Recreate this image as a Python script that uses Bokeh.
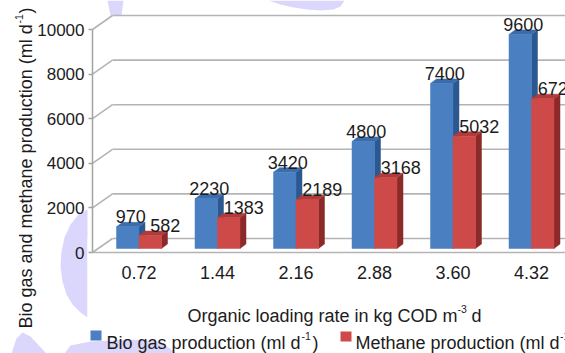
import numpy as np
from bokeh.plotting import figure
from bokeh.models import LinearAxis, FixedTicker, Range1d
from bokeh.core.properties import value
from bokeh.embed import file_html
from bokeh.resources import INLINE

# ---- data -------------------------------------------------------------
rates = ["0.72", "1.44", "2.16", "2.88", "3.60", "4.32"]   # kg COD m-3 d
biogas = [970, 2230, 3420, 4800, 7400, 9600]                # ml d-1
methane = [582, 1383, 2189, 3168, 5032, 6720]               # ml d-1
y_ticks = [0, 2000, 4000, 6000, 8000, 10000]

# ---- canvas geometry (pixels) -------------------------------------------
W, H = 565, 353
SEAM_PX = 138.5        # seam between the two bars of the first group
STEP_PX = 78.5         # distance between groups
ZERO_PX = 252          # value 0 on the front axis
PX_PER_UNIT = 223 / 10000
AXIS_PX = 92           # front vertical axis
WALL_DX, WALL_DY = 20, 14   # back wall offset
BAR_W_PX = 22.5
BAR_DX, BAR_DY = 6, 4.5     # bar depth
BAR_LIFT = 4                # bars stand a little behind the front edge


def X(px):
    return (np.asarray(px, dtype=float) - SEAM_PX) / STEP_PX


def Y(py):
    return (ZERO_PX - np.asarray(py, dtype=float)) / PX_PER_UNIT


FONT = value("Liberation Sans")
INK = "#1c1c1c"
GRID = "#b4b4b4"
LAVENDER = "#dbd6fb"

p = figure(width=W, height=H,
           x_range=Range1d(float(X(0)), float(X(W))),
           y_range=Range1d(float(Y(H)), float(Y(0))),
           x_axis_type=None, y_axis_type=None,
           output_backend="svg", toolbar_location=None, min_border=0)
p.outline_line_color = None
p.background_fill_color = "white"
p.border_fill_color = "white"

# ---- faint logo shapes in the page background ----------------------------
logo = [
    [(87, 209), (78, 214), (70, 224), (64, 237), (61, 251), (60, 266), (62, 281),
     (66, 294), (72, 304), (80, 312), (87, 317)],
    [(107, 0), (123, 0), (121, 15), (110, 15)],
    [(268, 0), (280, 4), (293, 7), (307, 9), (320, 10), (333, 9), (340, 6), (344, 0)],
    [(11, 353), (16, 338), (22, 332), (30, 336), (46, 353)],
    [(64, 353), (70, 345), (90, 341), (130, 339), (160, 341), (176, 353)],
]
p.patches(xs=[list(X([a for a, _ in s])) for s in logo],
          ys=[list(Y([b for _, b in s])) for s in logo],
          fill_color=LAVENDER, line_color=None)

# white plot area
p.quad(left=[float(X(AXIS_PX - 5))], right=[float(X(W + 5))],
       bottom=[float(Y(318))], top=[float(Y(ZERO_PX - WALL_DY - 1))],
       fill_color="white", line_color=None)

# ---- walls and gridlines -------------------------------------------------
wall_dy = WALL_DY / PX_PER_UNIT
ax_x = float(X(AXIS_PX))
back_x = float(X(AXIS_PX + WALL_DX))
right_x = float(X(W + 5))
p.segment(x0=[back_x] * len(y_ticks), y0=[t + wall_dy for t in y_ticks],
          x1=[right_x] * len(y_ticks), y1=[t + wall_dy for t in y_ticks],
          line_color=GRID, line_width=1.6)
p.segment(x0=[ax_x] * len(y_ticks), y0=y_ticks,
          x1=[back_x] * len(y_ticks), y1=[t + wall_dy for t in y_ticks],
          line_color=GRID, line_width=1.6)
p.segment(x0=[ax_x], y0=[0], x1=[right_x], y1=[0], line_color=GRID, line_width=1.6)

# ---- 3-D columns ---------------------------------------------------------
idx = np.arange(len(rates), dtype=float)
bw = BAR_W_PX / STEP_PX
ddx = BAR_DX / STEP_PX
ddy = BAR_DY / PX_PER_UNIT
base = BAR_LIFT / PX_PER_UNIT


def column(lefts, vals, front, side, top):
    rights = lefts + bw
    tops = base + np.asarray(vals, dtype=float)
    side_xs = [[r, r + ddx, r + ddx, r] for r in rights]
    side_ys = [[base, base + ddy, t + ddy, t] for t in tops]
    top_xs = [[l, l + ddx, r + ddx, r] for l, r in zip(lefts, rights)]
    top_ys = [[t, t + ddy, t + ddy, t] for t in tops]
    p.patches(xs=side_xs, ys=side_ys, fill_color=side, line_color=side, line_width=0.5)
    p.patches(xs=top_xs, ys=top_ys, fill_color=top, line_color=top, line_width=0.5)
    p.quad(left=lefts, right=rights, bottom=[base] * len(lefts), top=tops,
           fill_color=front, line_color=front, line_width=0.5)


column(idx - bw, biogas, "#4a7fc1", "#2b5890", "#3b6cab")
column(idx, methane, "#cd4a48", "#8c2a29", "#b03b3a")

# value labels
gap = 10 / PX_PER_UNIT
p.text(x=idx - bw / 2 + 3 / STEP_PX, y=[base + v + gap for v in biogas],
       text=[str(v) for v in biogas], text_font=FONT, text_font_size=value("18px"),
       text_color=INK, text_align="center", text_baseline="alphabetic")
p.text(x=idx + bw / 2 + 15 / STEP_PX, y=[base + v + gap for v in methane],
       text=[str(v) for v in methane], text_font=FONT, text_font_size=value("18px"),
       text_color=INK, text_align="center", text_baseline="alphabetic")

# ---- axes ----------------------------------------------------------------
yaxis = LinearAxis(fixed_location=ax_x, ticker=FixedTicker(ticks=y_ticks),
                   bounds=(0, 10000))
yaxis.axis_line_color = "#a3a3a3"
yaxis.axis_line_width = 1.5
yaxis.major_tick_line_color = "#a3a3a3"
yaxis.major_tick_line_width = 1.5
yaxis.major_tick_out = 4
yaxis.major_tick_in = 0
yaxis.minor_tick_line_color = None
yaxis.major_label_standoff = 4
yaxis.major_label_text_font = "Liberation Sans"
yaxis.major_label_text_font_size = "17px"
yaxis.major_label_text_color = INK
p.add_layout(yaxis, "left")

xaxis = LinearAxis(fixed_location=0, ticker=FixedTicker(ticks=list(idx)),
                   major_label_overrides={float(i): r for i, r in enumerate(rates)})
xaxis.axis_line_color = None
xaxis.major_tick_line_color = None
xaxis.minor_tick_line_color = None
xaxis.major_label_standoff = 7
xaxis.major_label_text_font = "Liberation Sans"
xaxis.major_label_text_font_size = "18px"
xaxis.major_label_text_color = INK
p.add_layout(xaxis, "below")

# ---- titles --------------------------------------------------------------
def txt(px, py, s, size="18px", angle=0.0, align="left"):
    p.text(x=[float(X(px))], y=[float(Y(py))], text=[s], angle=angle,
           text_font=FONT, text_font_size=value(size), text_color=INK,
           text_align=align, text_baseline="alphabetic")


txt(187, 315, "Organic loading rate in kg COD m")
txt(457, 308, "-3", size="10.5px")
txt(471, 315, "d")

txt(25, 328, "Bio gas and methane production (ml d", angle=np.pi / 2)
txt(18, 23, "-1", size="10.5px", angle=np.pi / 2)
txt(25, 13, ")", angle=np.pi / 2)

# ---- legend --------------------------------------------------------------
p.quad(left=[float(X(90)), float(X(340))], right=[float(X(101)), float(X(351))],
       bottom=[float(Y(340)), float(Y(341))], top=[float(Y(330)), float(Y(331))],
       fill_color=["#4a7fc1", "#cd4a48"], line_color=None)
txt(106, 342, "Bio gas production (ml d")
txt(301, 335, "-1", size="10.5px")
txt(312, 342, ")")
txt(355, 342, "Methane production (ml d")
txt(559.5, 335, "-1", size="10.5px")

open("out.html", "w").write(file_html(p, INLINE))
